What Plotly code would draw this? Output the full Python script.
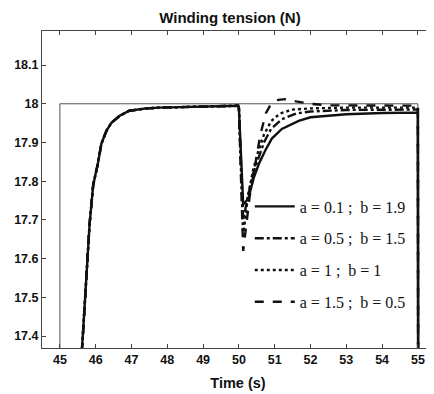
import plotly.graph_objects as go

# Reference (set-point) signal
ref_t = [44.0, 45.0, 45.0, 55.0, 55.0, 56.0]
ref_y = [0.0, 0.0, 18.0, 18.0, 0.0, 0.0]

# Common start-up portion (all four responses overlap)
rise_t = [45.0, 45.5, 45.65, 45.74, 45.83, 45.93, 46.06, 46.16, 46.30, 46.44, 46.67, 46.94, 47.41, 47.78, 48.5, 49.2, 49.98]
rise_y = [15.5, 17.2, 17.415, 17.57, 17.69, 17.79, 17.845, 17.897, 17.93, 17.951, 17.969, 17.982, 17.988, 17.99, 17.992, 17.994, 17.995]

# Disturbance at 50 s and the end at 55 s, per controller setting
s1_t = [50.0, 50.12, 50.26, 50.42, 50.56, 50.74, 50.92, 51.2, 51.67, 52.0, 53.0, 54.0, 55.0, 55.02]
s1_y = [17.99, 17.74, 17.754, 17.81, 17.845, 17.88, 17.91, 17.935, 17.956, 17.965, 17.973, 17.976, 17.977, 16.0]

s2_t = [50.0, 50.12, 50.25, 50.4, 50.55, 50.7, 50.9, 51.2, 51.6, 52.0, 53.0, 55.0, 55.02]
s2_y = [17.99, 17.70, 17.76, 17.82, 17.86, 17.90, 17.935, 17.96, 17.975, 17.98, 17.984, 17.985, 16.0]

s3_t = [50.0, 50.12, 50.25, 50.4, 50.55, 50.7, 50.9, 51.15, 51.5, 52.0, 53.0, 55.0, 55.02]
s3_y = [17.99, 17.66, 17.76, 17.83, 17.88, 17.92, 17.955, 17.975, 17.985, 17.988, 17.99, 17.99, 16.0]

s4_t = [50.0, 50.12, 50.3, 50.45, 50.6, 50.75, 50.9, 51.1, 51.3, 51.6, 52.0, 52.5, 55.0, 55.02]
s4_y = [17.99, 17.62, 17.76, 17.84, 17.92, 17.975, 18.0, 18.01, 18.012, 18.006, 18.0, 17.996, 17.995, 16.0]

labels = ["a = 0.1 ;  b = 1.9", "a = 0.5 ;  b = 1.5", "a = 1 ;  b = 1", "a = 1.5 ;  b = 0.5"]
dashes = ["solid", "dashdot", "dot", "dash"]

x_ticks = [45, 46, 47, 48, 49, 50, 51, 52, 53, 54, 55]
y_ticks = [17.4, 17.5, 17.6, 17.7, 17.8, 17.9, 18.0, 18.1]
y_ticktext = ["17.4", "17.5", "17.6", "17.7", "17.8", "17.9", "18", "18.1"]

fig = go.Figure()
fig.add_trace(go.Scatter(x=ref_t, y=ref_y, mode="lines",
                         line=dict(color="#555555", width=1), showlegend=False))

series = [(s1_t, s1_y), (s2_t, s2_y), (s3_t, s3_y), (s4_t, s4_y)]
for i, ((t, y), lab, d) in enumerate(zip(series, labels, dashes)):
    fig.add_trace(go.Scatter(x=rise_t + t, y=rise_y + y, mode="lines", name=lab,
                             legendgroup=f"g{i}",
                             line=dict(color="#111111", width=2.4, dash=d)))

sans = "Liberation Sans, Arial"
axis_common = dict(showline=True, linecolor="#444444", linewidth=1, mirror="ticks",
                   ticks="inside", ticklen=4, tickcolor="#444444", showgrid=False,
                   zeroline=False, automargin=False,
                   tickfont=dict(family=sans, size=12.5, color="#111111", weight="bold"))

# The page body adds an 8 px offset; the figure is sized to compensate.
fig.update_layout(
    width=426, height=386,
    margin=dict(l=34, r=0, t=23, b=46),
    paper_bgcolor="white", plot_bgcolor="white",
    title=dict(text="Winding tension (N)", x=0.521, xanchor="center", y=0.974, yanchor="middle",
               font=dict(family=sans, size=15, color="#111111", weight="bold")),
    xaxis=dict(range=[44.5, 55.45], tickvals=x_ticks, ticklabelstandoff=0,
               title=dict(text="Time (s)", standoff=11,
                          font=dict(family=sans, size=14.5, color="#111111", weight="bold")),
               **axis_common),
    yaxis=dict(range=[17.369, 18.188], tickvals=y_ticks, ticktext=y_ticktext,
               ticklabelstandoff=0, **axis_common),
    legend=dict(x=0.53, y=0.5, xanchor="left", yanchor="top", bgcolor="rgba(0,0,0,0)",
                traceorder="grouped", tracegroupgap=8, itemwidth=40,
                font=dict(family="Liberation Serif, Times New Roman, serif", size=16, color="#111111")),
)

fig.write_html("out.html")
